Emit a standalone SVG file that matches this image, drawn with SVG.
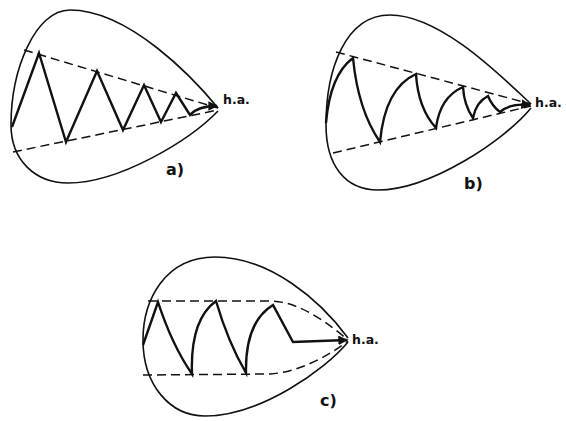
<svg xmlns="http://www.w3.org/2000/svg" width="566" height="421" viewBox="0 0 566 421">
<style>
.outline{fill:none;stroke:#111;stroke-width:1.6}
.dash{fill:none;stroke:#111;stroke-width:1.5;stroke-dasharray:9 5}
.zig{fill:none;stroke:#111;stroke-width:2.4;stroke-linejoin:miter}
.lbl{font-family:"DejaVu Sans","Liberation Sans",sans-serif;fill:#111;font-weight:bold}
.ha{font-size:12.5px}
.pl{font-size:16px}
</style>
<defs>
<marker id="ah" viewBox="0 0 10 10" refX="9" refY="5" markerWidth="4" markerHeight="4" orient="auto"><path d="M0,0 L10,5 L0,10 Z" fill="#111"/></marker>
</defs>
<g id="panel-a">
<path class="outline" d="M218,108 C195,80 130,10 70,10 C35,10 11,70 11,125 C11,160 35,183 68,183 C120,183 190,140 218,111"/>
<path class="dash" d="M24,50 L218,108"/>
<path class="dash" d="M13,152 L218,110"/>
<path class="zig" marker-end="url(#ah)" d="M12,127 L39,53 L66,142 L97,71 L123,130 L144,85 L161,122 L176,93 L190,115 C196,108 205,106 217,106"/>
<text class="lbl ha" x="223" y="104">h.a.</text>
<text class="lbl pl" x="166" y="175">a)</text>
</g>
<g id="panel-b">
<path class="outline" d="M531,104 C500,75 440,15 390,15 C345,15 326,70 326,125 C326,165 345,190 378,190 C430,190 505,140 531,108"/>
<path class="dash" d="M336,52 L531,104"/>
<path class="dash" d="M333,153 L531,106"/>
<path class="zig" marker-end="url(#ah)" d="M326,123 Q330,75 353,58 Q358,110 380,142 Q385,88 416,74 Q418,108 436,128 Q440,97 463,87 Q464,105 473,118 Q476,102 488,96 Q492,106 500,112 Q510,103 530,105"/>
<text class="lbl ha" x="535" y="107">h.a.</text>
<text class="lbl pl" x="464" y="189">b)</text>
</g>
<g id="panel-c">
<path class="outline" d="M348,338 C320,300 270,257 215,257 C165,257 143,300 143,340 C143,385 170,416 205,416 C260,416 325,370 348,342"/>
<path class="dash" d="M148,301 L270,301 C300,301 330,325 348,340"/>
<path class="dash" d="M143,375 L270,374 C300,372 330,355 348,341"/>
<path class="zig" marker-end="url(#ah)" d="M143,345 L158,302 Q172,345 192,374 Q190,320 216,301 Q228,342 246,373 Q245,322 273,305 L293,342 L347,340"/>
<text class="lbl ha" x="352" y="344">h.a.</text>
<text class="lbl pl" x="320" y="406">c)</text>
</g>
</svg>
